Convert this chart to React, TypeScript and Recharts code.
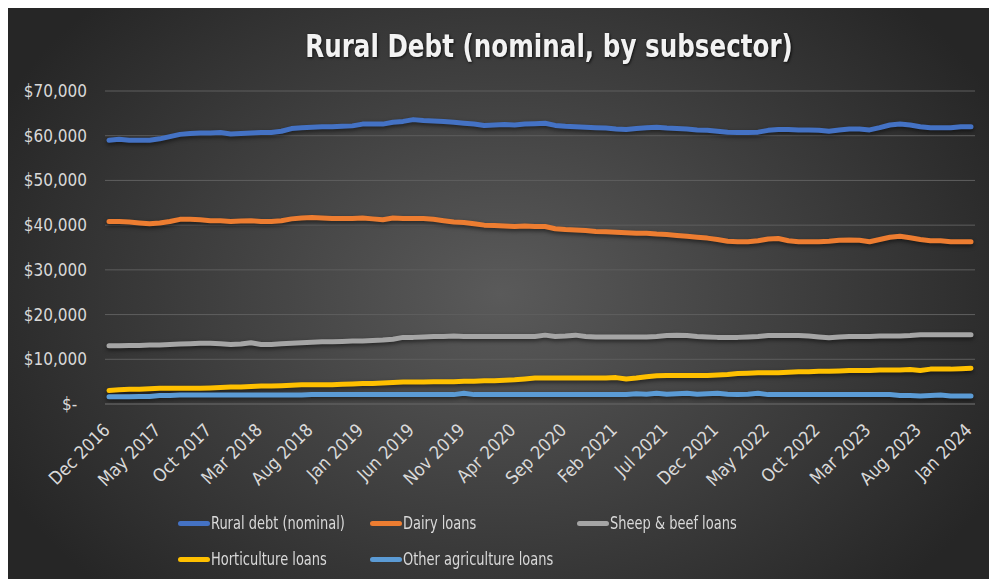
import { LineChart, Line, XAxis, YAxis, CartesianGrid, Legend } from "recharts";

const months = [
  "Dec 2016", "Jan 2017", "Feb 2017", "Mar 2017", "Apr 2017", "May 2017", "Jun 2017", "Jul 2017", "Aug 2017", "Sep 2017", "Oct 2017", "Nov 2017",
  "Dec 2017", "Jan 2018", "Feb 2018", "Mar 2018", "Apr 2018", "May 2018", "Jun 2018", "Jul 2018", "Aug 2018", "Sep 2018", "Oct 2018", "Nov 2018",
  "Dec 2018", "Jan 2019", "Feb 2019", "Mar 2019", "Apr 2019", "May 2019", "Jun 2019", "Jul 2019", "Aug 2019", "Sep 2019", "Oct 2019", "Nov 2019",
  "Dec 2019", "Jan 2020", "Feb 2020", "Mar 2020", "Apr 2020", "May 2020", "Jun 2020", "Jul 2020", "Aug 2020", "Sep 2020", "Oct 2020", "Nov 2020",
  "Dec 2020", "Jan 2021", "Feb 2021", "Mar 2021", "Apr 2021", "May 2021", "Jun 2021", "Jul 2021", "Aug 2021", "Sep 2021", "Oct 2021", "Nov 2021",
  "Dec 2021", "Jan 2022", "Feb 2022", "Mar 2022", "Apr 2022", "May 2022", "Jun 2022", "Jul 2022", "Aug 2022", "Sep 2022", "Oct 2022", "Nov 2022",
  "Dec 2022", "Jan 2023", "Feb 2023", "Mar 2023", "Apr 2023", "May 2023", "Jun 2023", "Jul 2023", "Aug 2023", "Sep 2023", "Oct 2023", "Nov 2023",
  "Dec 2023", "Jan 2024",
];

const ruralDebt = [
  59000, 59200, 59000, 59000, 59000, 59300, 59800, 60300, 60500, 60600, 60600, 60700,
  60400, 60500, 60600, 60700, 60700, 61000, 61600, 61800, 61900, 62000, 62000, 62100,
  62200, 62600, 62600, 62600, 63000, 63200, 63600, 63400, 63300, 63200, 63000, 62800,
  62600, 62300, 62400, 62500, 62400, 62600, 62700, 62800, 62300, 62100, 62000, 61900,
  61800, 61700, 61500, 61400, 61600, 61800, 61900, 61700, 61600, 61500, 61300, 61200,
  61000, 60800, 60700, 60700, 60800, 61200, 61400, 61400, 61300, 61300, 61200, 61000,
  61300, 61500, 61500, 61300, 61800, 62400, 62600, 62400, 62000, 61800, 61800, 61800,
  62000, 62000,
];

const dairy = [
  40800, 40800, 40700, 40500, 40300, 40500, 40800, 41300, 41300, 41200, 41000, 41000,
  40800, 40900, 41000, 40800, 40800, 41000, 41400, 41600, 41700, 41600, 41500, 41500,
  41500, 41600, 41400, 41200, 41600, 41500, 41500, 41500, 41300, 41000, 40700, 40600,
  40300, 40000, 39900, 39800, 39700, 39800, 39700, 39700, 39200, 39000, 38900, 38800,
  38600, 38500, 38400, 38300, 38200, 38200, 38000, 37900, 37700, 37500, 37300, 37100,
  36800, 36400, 36300, 36300, 36500, 36900, 37000, 36500, 36300, 36300, 36300, 36400,
  36600, 36700, 36600, 36300, 36800, 37300, 37500, 37200, 36800, 36500, 36500, 36300,
  36300, 36300,
];

const sheepBeef = [
  13000, 13000, 13100, 13100, 13200, 13200, 13300, 13400, 13500, 13600, 13600, 13500,
  13300, 13400, 13700, 13300, 13300, 13500, 13600, 13700, 13800, 13900, 13900, 14000,
  14100, 14100, 14200, 14300, 14500, 14900, 14900, 15000, 15100, 15100, 15200, 15100,
  15100, 15100, 15100, 15100, 15100, 15100, 15100, 15400, 15100, 15200, 15400, 15100,
  15000, 15000, 15000, 15000, 15000, 15000, 15100, 15300, 15400, 15300, 15100, 15000,
  14900, 14900, 14900, 15000, 15100, 15300, 15300, 15300, 15300, 15200, 15000, 14800,
  15000, 15100, 15100, 15100, 15200, 15200, 15200, 15300, 15500, 15500, 15500, 15500,
  15500, 15500,
];

const horticulture = [
  3000, 3200, 3300, 3300, 3400, 3500, 3500, 3500, 3500, 3500, 3600, 3700,
  3800, 3800, 3900, 4000, 4000, 4100, 4200, 4300, 4300, 4300, 4300, 4400,
  4500, 4600, 4600, 4700, 4800, 4900, 4900, 4900, 5000, 5000, 5000, 5100,
  5100, 5200, 5200, 5300, 5400, 5600, 5800, 5800, 5800, 5800, 5800, 5800,
  5800, 5800, 5900, 5600, 5800, 6100, 6300, 6400, 6400, 6400, 6400, 6400,
  6500, 6600, 6800, 6900, 7000, 7000, 7000, 7100, 7200, 7200, 7300, 7300,
  7400, 7500, 7500, 7500, 7600, 7600, 7600, 7700, 7500, 7800, 7800, 7800,
  7900, 8000,
];

const otherAg = [
  1600, 1600, 1600, 1700, 1700, 1900, 1900, 2000, 2000, 2000, 2000, 2000,
  2000, 2000, 2000, 2000, 2000, 2000, 2000, 2000, 2100, 2100, 2100, 2100,
  2100, 2100, 2100, 2100, 2100, 2100, 2100, 2100, 2100, 2100, 2100, 2400,
  2100, 2100, 2100, 2100, 2100, 2100, 2100, 2100, 2100, 2100, 2100, 2100,
  2100, 2100, 2100, 2100, 2300, 2200, 2400, 2200, 2300, 2400, 2200, 2300,
  2400, 2200, 2100, 2200, 2400, 2100, 2100, 2100, 2100, 2100, 2100, 2100,
  2100, 2100, 2100, 2100, 2100, 2100, 1900, 1900, 1800, 1900, 2000, 1800,
  1800, 1800,
];

const yTicks = [0, 10000, 20000, 30000, 40000, 50000, 60000, 70000];

const series = [
  { key: "rural", name: "Rural debt (nominal)", color: "#4472C4" },
  { key: "dairy", name: "Dairy loans", color: "#ED7D31" },
  { key: "sheep", name: "Sheep & beef loans", color: "#A5A5A5" },
  { key: "horti", name: "Horticulture loans", color: "#FFC000" },
  { key: "other", name: "Other agriculture loans", color: "#5B9BD5" },
];

const data = months.map((m, i) => ({
  month: m,
  rural: ruralDebt[i],
  dairy: dairy[i],
  sheep: sheepBeef[i],
  horti: horticulture[i],
  other: otherAg[i],
}));

const FONT = "'DejaVu Sans Condensed', 'DejaVu Sans', sans-serif";
const TEXT = "#d9d9d9";

const fmtY = (v: number) =>
  v === 0 ? "$-\u00a0\u00a0" : "$" + v.toLocaleString("en-US");

const XTick = ({ x, y, payload }: any) => (
  <text
    x={x}
    y={y}
    dy={15}
    dx={-12}
    fill={TEXT}
    fontSize={18}
    fontFamily={FONT}
    textAnchor="end"
    transform={`rotate(-45, ${x}, ${y})`}
  >
    {payload.value}
  </text>
);

// legend items at fixed columns, two rows, like the excel one
const legendPos = [
  { left: 173, top: 3 },
  { left: 365, top: 3 },
  { left: 572, top: 3 },
  { left: 173, top: 39 },
  { left: 365, top: 39 },
];

const LegendBox = () => (
  <div style={{ position: "relative", width: 992, height: 60 }}>
    {series.map((s, i) => (
      <div
        key={s.key}
        style={{
          position: "absolute",
          left: legendPos[i].left,
          top: legendPos[i].top,
          display: "flex",
          alignItems: "center",
          fontFamily: FONT,
          fontSize: 17,
          color: TEXT,
          whiteSpace: "nowrap",
        }}
      >
        <span
          style={{
            display: "inline-block",
            width: 32,
            height: 5,
            borderRadius: 3,
            background: s.color,
            marginRight: 1,
          }}
        />
        <span style={{ display: "inline-block", transform: "scaleX(0.85)", transformOrigin: "left center" }}>
          {s.name}
        </span>
      </div>
    ))}
  </div>
);

export default function App() {
  return (
    <div
      style={{
        position: "relative",
        marginLeft: -3,
        width: 992,
        height: 571,
        background:
          "radial-gradient(ellipse 560px 420px at 50% 50%, #5a5a5a 0%, #262626 100%)",
      }}
    >
      <style>{`.recharts-line-curve { filter: drop-shadow(0px 2px 2px rgba(0,0,0,0.55)); }`}</style>
      <div
        style={{
          position: "absolute",
          top: 19,
          left: 244,
          width: 600,
          textAlign: "center",
          fontFamily: FONT,
          fontWeight: "bold",
          fontSize: 32,
          color: "#f2f2f2",
          whiteSpace: "nowrap",
          transform: "scaleX(0.855)",
          textShadow: "1px 1px 3px rgba(0,0,0,0.8)",
        }}
      >
        Rural Debt (nominal, by subsector)
      </div>
      <LineChart
        width={992}
        height={571}
        data={data}
        margin={{ top: 83, right: 22, bottom: 0, left: 0 }}
      >
        <CartesianGrid vertical={false} stroke="#5e5e5e" />
        <XAxis
          dataKey="month"
          interval={4}
          tick={<XTick />}
          tickLine={false}
          axisLine={{ stroke: "#5e5e5e" }}
          padding={{ left: 4, right: 4 }}
          height={115}
        />
        <YAxis
          domain={[0, 70000]}
          ticks={yTicks}
          tickFormatter={fmtY}
          width={100}
          tickLine={false}
          axisLine={false}
          tickSize={0}
          tickMargin={18}
          tick={{ fill: TEXT, fontSize: 17, fontFamily: FONT }}
        />
        <Legend
          content={<LegendBox />}
          wrapperStyle={{ position: "absolute", left: 0, top: 502, width: 992 }}
        />
        {series.map((s) => (
          <Line
            key={s.key}
            type="linear"
            dataKey={s.key}
            name={s.name}
            stroke={s.color}
            strokeWidth={5}
            strokeLinecap="round"
            strokeLinejoin="round"
            dot={false}
            isAnimationActive={false}
          />
        ))}
      </LineChart>
    </div>
  );
}
